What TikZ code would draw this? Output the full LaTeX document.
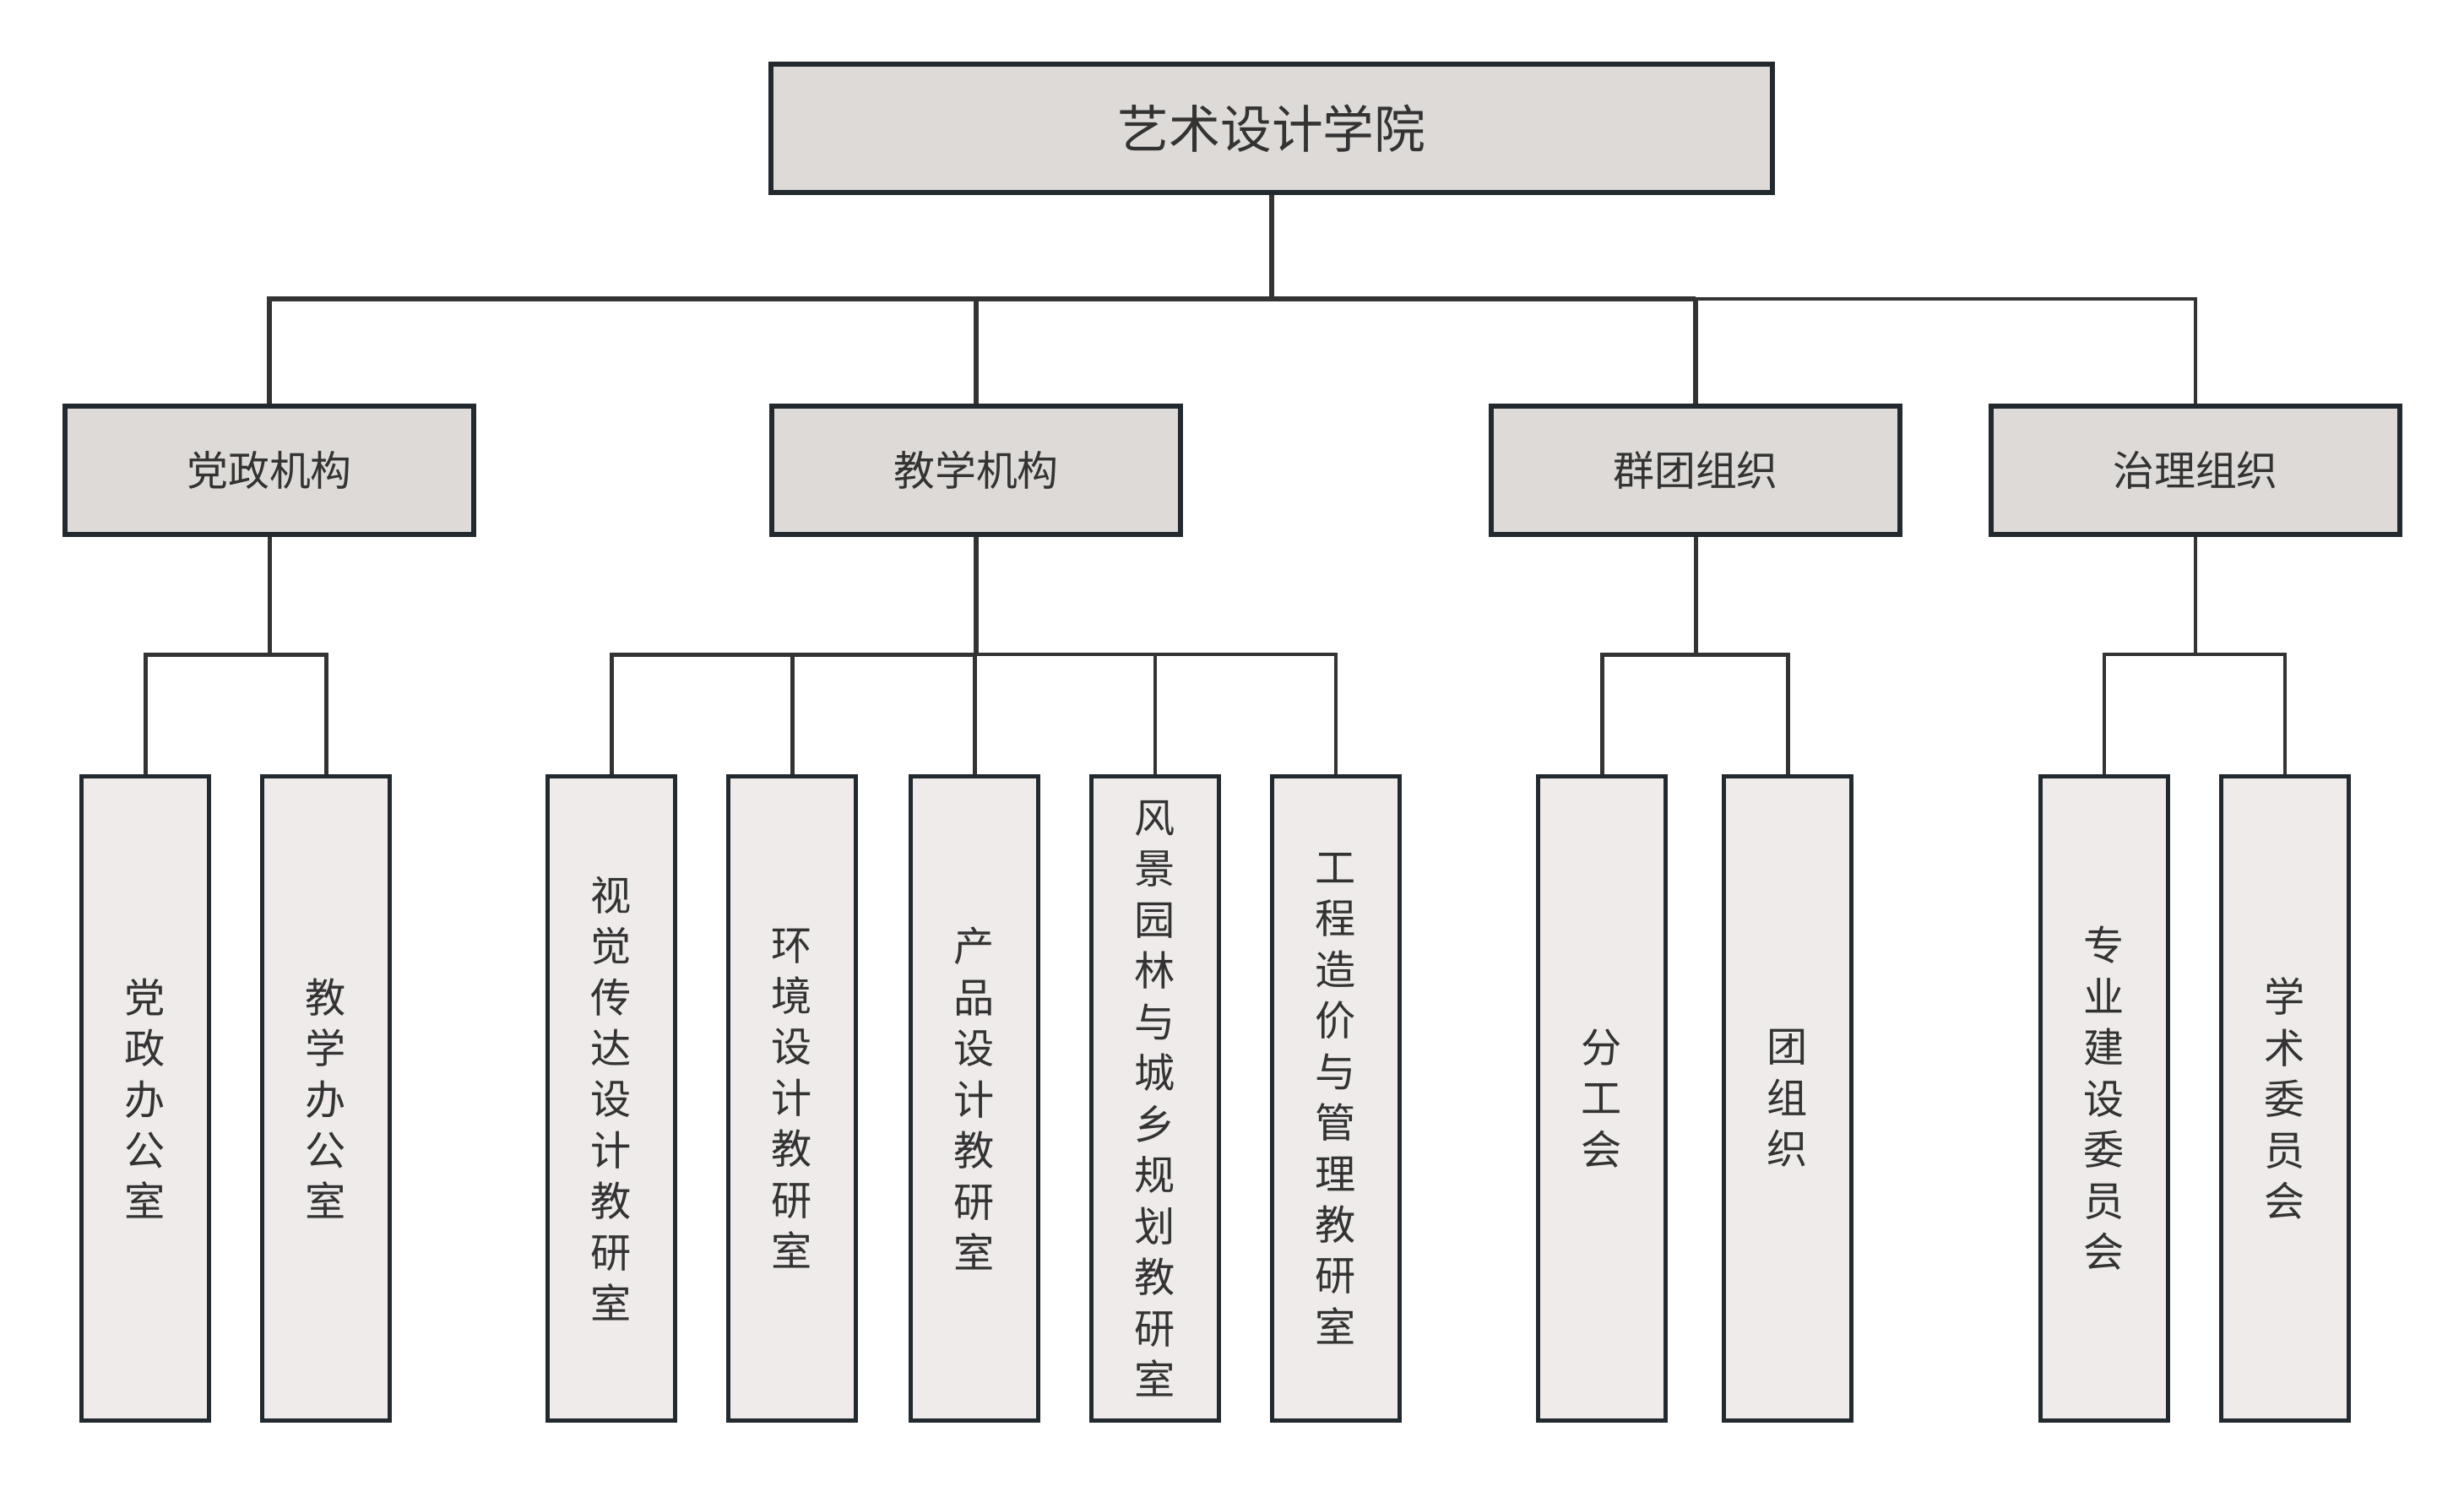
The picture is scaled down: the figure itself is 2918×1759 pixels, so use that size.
\documentclass[tikz,border=0pt]{standalone}
\usepackage{fontspec}
\setmainfont{Noto Sans CJK SC}
\definecolor{boxline}{HTML}{222A30}
\definecolor{conn}{HTML}{333333}
\definecolor{txt}{HTML}{333333}
\definecolor{fillA}{HTML}{DEDAD7}
\definecolor{fillB}{HTML}{EEEBEA}
\begin{document}
\begin{tikzpicture}[x=0.01cm,y=-0.01cm,
  rootbox/.style={draw=boxline,line width=0.06cm,fill=fillA,rectangle,inner sep=0pt,
    minimum width=11.85cm,minimum height=1.52cm,text=txt,font=\fontsize{17.3pt}{20pt}\selectfont},
  midbox/.style={draw=boxline,line width=0.06cm,fill=fillA,rectangle,inner sep=0pt,
    minimum width=4.84cm,minimum height=1.52cm,text=txt,font=\fontsize{13.9pt}{17pt}\selectfont},
  leafbox/.style={draw=boxline,line width=0.05cm,fill=fillB,rectangle,inner sep=0pt,
    minimum width=1.51cm,minimum height=7.63cm,text=txt,align=center,
    font=\fontsize{13.7pt}{17.2pt}\selectfont},
  thickline/.style={draw=conn,line width=0.06cm},
  midline/.style={draw=conn,line width=0.05cm},
  thinline/.style={draw=conn,line width=0.04cm}
]
\useasboundingbox (0,0) rectangle (2918,1759);

% root and level 1
\node[rootbox] (root) at (1506,152) {艺术设计学院};
\node[midbox] (dz) at (319,557) {党政机构};
\node[midbox] (jx) at (1156,557) {教学机构};
\node[midbox] (qt) at (2008,557) {群团组织};
\node[midbox] (zl) at (2600,557) {治理组织};

% leaves
\node[leafbox] (a1) at (172,1301) {党\\政\\办\\公\\室};
\node[leafbox] (a2) at (386,1301) {教\\学\\办\\公\\室};
\node[leafbox] (b1) at (724,1301) {视\\觉\\传\\达\\设\\计\\教\\研\\室};
\node[leafbox] (b2) at (938,1301) {环\\境\\设\\计\\教\\研\\室};
\node[leafbox] (b3) at (1154,1301) {产\\品\\设\\计\\教\\研\\室};
\node[leafbox] (b4) at (1368,1301) {风\\景\\园\\林\\与\\城\\乡\\规\\划\\教\\研\\室};
\node[leafbox] (b5) at (1582,1301) {工\\程\\造\\价\\与\\管\\理\\教\\研\\室};
\node[leafbox] (c1) at (1897,1301) {分\\工\\会};
\node[leafbox] (c2) at (2117,1301) {团\\组\\织};
\node[leafbox] (d1) at (2492,1301) {专\\业\\建\\设\\委\\员\\会};
\node[leafbox] (d2) at (2706,1301) {学\\术\\委\\员\\会};

\coordinate (bus) at (0,354);
\coordinate (sub) at (0,775);

\begin{scope}[on background layer/.style={}]
% top level connectors
\draw[thickline] (root.south) -- (root.south |- bus);
\draw[thickline] (dz.north) -- (dz.north |- bus) -- (qt.north |- bus);
\draw[thickline] (jx.north) -- (jx.north |- bus);
\draw[thickline] (qt.north) -- (qt.north |- bus);
\draw[thinline] (qt.north |- bus) -- (zl.north |- bus) -- (zl.north);

% 党政
\draw[midline] (dz.south) -- (dz.south |- sub);
\draw[midline] (a1.north) -- (a1.north |- sub) -- (a2.north |- sub) -- (a2.north);

% 教学
\draw[thickline] (jx.south) -- (jx.south |- sub);
\draw[midline] (b1.north) -- (b1.north |- sub) -- (jx.south |- sub);
\draw[midline] (b2.north) -- (b2.north |- sub);
\draw[midline] (b3.north) -- (b3.north |- sub);
\draw[thinline] (jx.south |- sub) -- (b5.north |- sub) -- (b5.north);
\draw[thinline] (b4.north) -- (b4.north |- sub);

% 群团
\draw[midline] (qt.south) -- (qt.south |- sub);
\draw[midline] (c1.north) -- (c1.north |- sub) -- (c2.north |- sub) -- (c2.north);

% 治理
\draw[thinline] (zl.south) -- (zl.south |- sub);
\draw[thinline] (d1.north) -- (d1.north |- sub) -- (d2.north |- sub) -- (d2.north);
\end{scope}
\end{tikzpicture}
\end{document}
